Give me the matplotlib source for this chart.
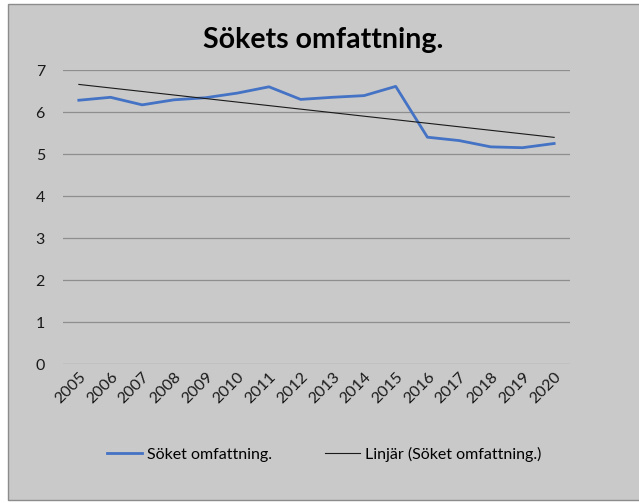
import numpy as np
import matplotlib.pyplot as plt
from matplotlib.patches import Rectangle

# data
years = [str(y) for y in range(2005, 2021)]
values = [6.28, 6.35, 6.17, 6.29, 6.34, 6.45, 6.60, 6.30,
          6.35, 6.39, 6.61, 5.40, 5.32, 5.17, 5.15, 5.25]
series_label = "Söket omfattning."
trend_label = "Linjär (Söket omfattning.)"
title = "Sökets omfattning."

plt.rcParams['font.family'] = ['Lato', 'DejaVu Sans']
bg = "#c9c9c9"

fig = plt.figure(figsize=(6.39, 5.03), dpi=100, facecolor="white")
fig.patches.append(Rectangle((8 / 639, 3 / 503), 1.0, 1 - 7 / 503,
                             transform=fig.transFigure, facecolor=bg,
                             edgecolor="#8c8c8c", linewidth=1.0, zorder=-10))

ax = fig.add_axes([63 / 639, 1 - 364 / 503, 507 / 639, 294 / 503])
ax.set_facecolor(bg)
ax.patch.set_alpha(0)

x = np.arange(len(years))
ax.plot(x, values, color="#4472c4", linewidth=2.0, label=series_label,
        solid_joinstyle="round")
k, m = np.polyfit(x, values, 1)
ax.plot(x, k * x + m, color="#1a1a1a", linewidth=0.8, label=trend_label)

ax.set_xlim(-0.5, len(years) - 0.5)
ax.set_ylim(0, 7)
ax.set_yticks(range(0, 8))
ax.set_xticks(x)
ax.set_xticklabels(years, rotation=45, ha="right", rotation_mode="anchor")
ax.tick_params(axis="both", length=0, labelsize=11.5, colors="#1a1a1a")
ax.tick_params(axis="y", pad=13)
ax.tick_params(axis="x", pad=4)
ax.grid(axis="y", color="#8e8e8e", linewidth=0.9)
ax.set_axisbelow(True)
for s in ax.spines.values():
    s.set_visible(False)

fig.text(0.5 * (8 + 639) / 639, 1 - 40 / 503, title, ha="center", va="center",
         fontsize=20.5, fontweight="bold", color="#000000")

fig.legend(loc="center", bbox_to_anchor=(324 / 639, 1 - 454 / 503), ncol=2,
           frameon=False, fontsize=11.5, handlelength=2.2, columnspacing=3.3,
           handletextpad=0.3)

fig.savefig("out.png", dpi=100, facecolor="white")
